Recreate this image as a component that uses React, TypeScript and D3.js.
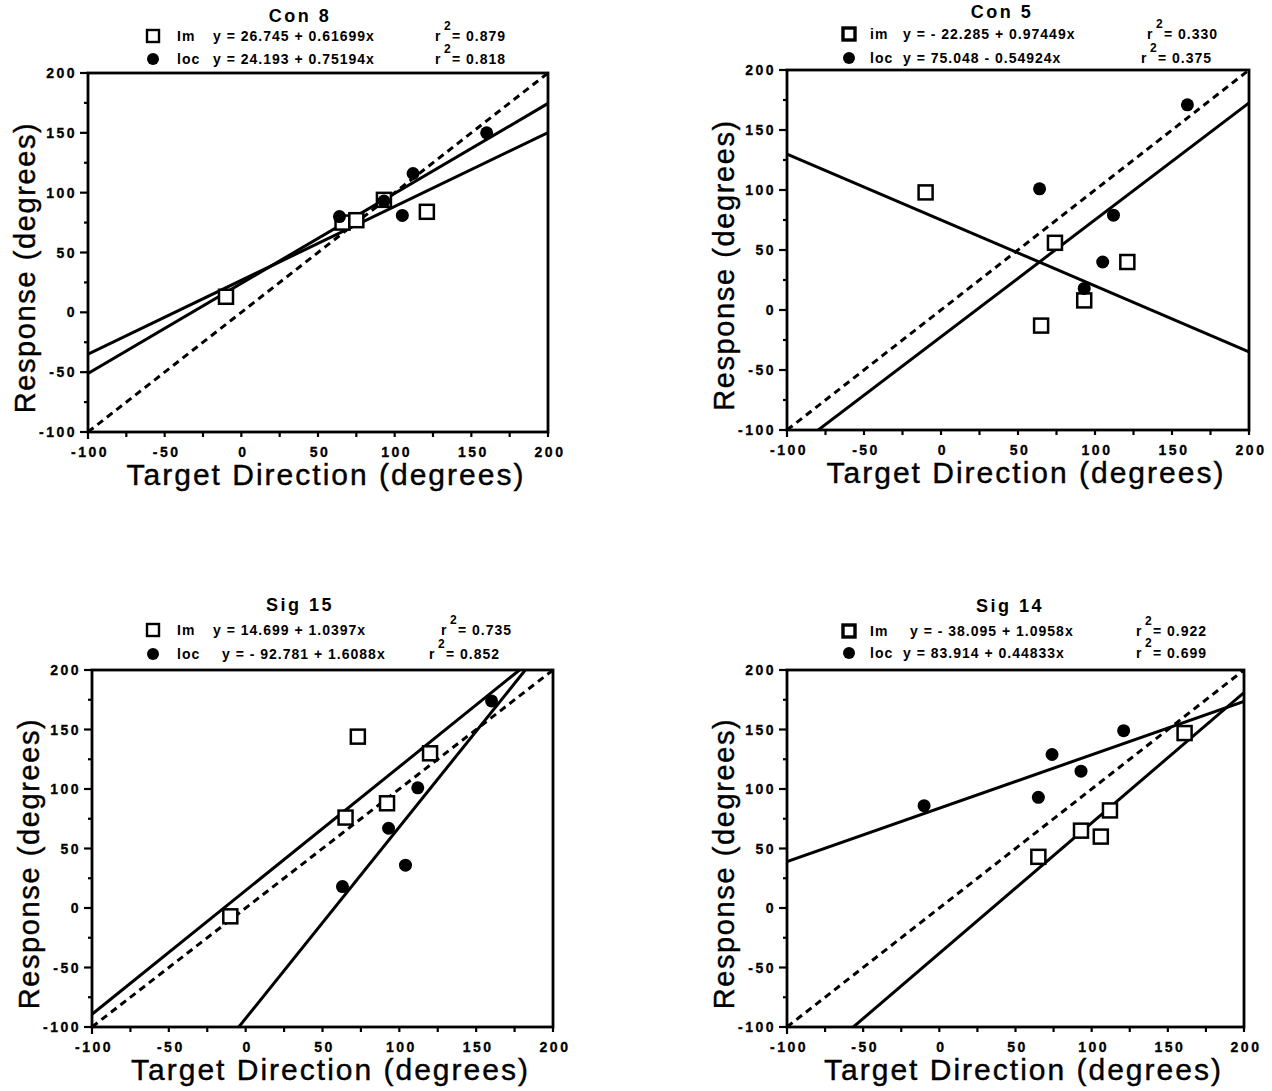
import React from "react";
import * as d3 from "d3";

// ---------- data ----------
const TITLES = ["Con 8", "Con 5", "Sig 15", "Sig 14"];
const IM_LABELS = ["Im", "im", "Im", "Im"];
const LOC_LABEL = "loc";

const IM_X = [
  [-10, 66, 75, 93, 121],
  [-10, 74, 65, 93, 121],
  [-10, 65, 73, 92, 120],
  [65, 93, 106, 112, 161],
];
const IM_Y = [
  [13, 75, 77, 94, 84],
  [98, 56, -13, 8, 40],
  [-7, 76, 144, 88, 130],
  [43, 65, 60, 82, 147],
];
const LOC_X = [
  [64, 93, 105, 112, 160],
  [64, 112, 105, 93, 160],
  [63, 93, 104, 112, 160],
  [-10, 65, 74, 93, 121],
];
const LOC_Y = [
  [80, 93, 81, 116, 150],
  [101, 79, 40, 18, 171],
  [18, 67, 36, 101, 174],
  [86, 93, 129, 115, 149],
];

const IM_A = [26.745, -22.285, 14.699, -38.095];
const IM_B = [0.61699, 0.97449, 1.0397, 1.0958];
const LOC_A = [24.193, 75.048, -92.781, 83.914];
const LOC_B = [0.75194, -0.54924, 1.6088, 0.44833];
const IM_R2 = ["0.879", "0.330", "0.735", "0.922"];
const LOC_R2 = ["0.818", "0.375", "0.852", "0.699"];

const X_TICKS = [-100, -50, 0, 50, 100, 150, 200];
const Y_TICKS = [-100, -50, 0, 50, 100, 150, 200];
const DOMAIN: [number, number] = [-100, 200];
const X_TITLE = "Target Direction (degrees)";
const Y_TITLE = "Response (degrees)";

// ---------- layout (styling only) ----------
const LAYOUT = [
  { x0: 88, x1: 548, y0: 73, y1: 432, titleX: 300, titleY: 22, row1: 41, row2: 64, sym: 153, lab: 177, eq1: 213, eq2: 213, r1: 435, r2: 435, symW: 2.4 },
  { x0: 787, x1: 1249, y0: 70, y1: 430, titleX: 1002, titleY: 18, row1: 39, row2: 63, sym: 849, lab: 870, eq1: 903, eq2: 903, r1: 1147, r2: 1141, symW: 3.4 },
  { x0: 92, x1: 553, y0: 670, y1: 1027, titleX: 300, titleY: 611, row1: 635, row2: 659, sym: 153, lab: 177, eq1: 213, eq2: 222, r1: 441, r2: 429, symW: 2.4 },
  { x0: 787, x1: 1244, y0: 670, y1: 1027, titleX: 1010, titleY: 612, row1: 636, row2: 658, sym: 849, lab: 870, eq1: 910, eq2: 903, r1: 1136, r2: 1136, symW: 3.4 },
];

const FONT = "'Liberation Sans', Arial, Helvetica, sans-serif";

function fmtEq(a: number, b: number) {
  const as = a < 0 ? `- ${Math.abs(a)}` : `${a}`;
  const bs = b < 0 ? `- ${Math.abs(b)}x` : `+ ${b}x`;
  return `y = ${as} ${bs}`;
}

function Panel({ i }: { i: number }) {
  const L = LAYOUT[i];
  const x = d3.scaleLinear().domain(DOMAIN).range([L.x0, L.x1]);
  const y = d3.scaleLinear().domain(DOMAIN).range([L.y1, L.y0]);
  const line = d3
    .line<[number, number]>()
    .x((d) => x(d[0]))
    .y((d) => y(d[1]));
  const fit = (a: number, b: number) =>
    line(DOMAIN.map((v) => [v, a + b * v] as [number, number])) || "";
  const minor = d3.range(-100, 201, 25);
  const clipId = `clip${i}`;
  const sq = 14;

  const imPts = IM_X[i].map((v, k) => [v, IM_Y[i][k]]);
  const locPts = LOC_X[i].map((v, k) => [v, LOC_Y[i][k]]);

  const legendText: any = {
    fontFamily: FONT,
    fontWeight: 700,
    fontSize: 14,
    letterSpacing: 1,
  };

  const r2 = (rx: number, ry: number, val: string) => (
    <g style={legendText}>
      <text x={rx} y={ry}>r</text>
      <text x={rx + 9} y={ry - 11} fontSize={12}>2</text>
      <text x={rx + 17} y={ry}>{`= ${val}`}</text>
    </g>
  );

  const tickText: any = {
    fontFamily: FONT,
    fontWeight: 700,
    fontSize: 14,
    letterSpacing: 2.5,
    stroke: "black",
    strokeWidth: 0.3,
  };

  return (
    <g>
      <defs>
        <clipPath id={clipId}>
          <rect x={L.x0} y={L.y0} width={L.x1 - L.x0} height={L.y1 - L.y0} />
        </clipPath>
      </defs>

      {/* title */}
      <text x={L.titleX} y={L.titleY} textAnchor="middle" fontFamily={FONT} fontWeight={700} fontSize={18} letterSpacing={2.5}>
        {TITLES[i]}
      </text>

      {/* legend row 1 */}
      <rect x={L.sym - 6} y={L.row1 - 11} width={12} height={12} fill="white" stroke="black" strokeWidth={L.symW} />
      <text x={L.lab} y={L.row1} style={legendText}>{IM_LABELS[i]}</text>
      <text x={L.eq1} y={L.row1} style={legendText}>{fmtEq(IM_A[i], IM_B[i])}</text>
      {r2(L.r1, L.row1, IM_R2[i])}

      {/* legend row 2 */}
      <circle cx={L.sym} cy={L.row2 - 5} r={6} fill="black" />
      <text x={L.lab} y={L.row2} style={legendText}>{LOC_LABEL}</text>
      <text x={L.eq2} y={L.row2} style={legendText}>{fmtEq(LOC_A[i], LOC_B[i])}</text>
      {r2(L.r2, L.row2, LOC_R2[i])}

      {/* frame */}
      <rect x={L.x0} y={L.y0} width={L.x1 - L.x0} height={L.y1 - L.y0} fill="white" stroke="black" strokeWidth={2.8} />

      {/* y ticks */}
      {minor.map((t) => (
        <line key={"ym" + t} x1={L.x0} x2={L.x0 - (Y_TICKS.includes(t) ? 8 : 4)} y1={y(t)} y2={y(t)} stroke="black" strokeWidth={2.2} />
      ))}
      {Y_TICKS.map((t) => (
        <text key={"yl" + t} x={L.x0 - 11} y={y(t) + 5} textAnchor="end" style={tickText}>
          {String(t)}
        </text>
      ))}

      {/* x ticks */}
      {minor.map((t) => (
        <line key={"xm" + t} x1={x(t)} x2={x(t)} y1={L.y1} y2={L.y1 + (t === -100 ? 7 : 5)} stroke="black" strokeWidth={2.2} />
      ))}
      {X_TICKS.map((t) => (
        <text key={"xl" + t} x={x(t) + 2} y={L.y1 + 25} textAnchor="middle" style={tickText}>
          {String(t)}
        </text>
      ))}

      {/* axis titles */}
      <text
        x={(L.x0 + L.x1) / 2 + 8}
        y={L.y1 + 53}
        textAnchor="middle"
        fontFamily={FONT}
        fontSize={30}
        letterSpacing={2}
        stroke="black"
        strokeWidth={0.4}
      >
        {X_TITLE}
      </text>
      <text
        transform={`translate(${L.x0 - 53}, ${(L.y0 + L.y1) / 2 + 15}) rotate(-90)`}
        textAnchor="middle"
        fontFamily={FONT}
        fontSize={29}
        letterSpacing={1.6}
        stroke="black"
        strokeWidth={0.4}
      >
        {Y_TITLE}
      </text>

      {/* lines */}
      <g clipPath={`url(#${clipId})`}>
        <path d={fit(0, 1)} fill="none" stroke="black" strokeWidth={3} strokeDasharray="7 5" />
        <path d={fit(IM_A[i], IM_B[i])} fill="none" stroke="black" strokeWidth={3} />
        <path d={fit(LOC_A[i], LOC_B[i])} fill="none" stroke="black" strokeWidth={3} />
      </g>

      {/* points */}
      {imPts.map((p, k) => (
        <rect key={"s" + k} x={x(p[0]) - sq / 2} y={y(p[1]) - sq / 2} width={sq} height={sq} fill="white" stroke="black" strokeWidth={2.5} />
      ))}
      {locPts.map((p, k) => (
        <circle key={"c" + k} cx={x(p[0])} cy={y(p[1])} r={6.5} fill="black" />
      ))}
    </g>
  );
}

export default function App() {
  return (
    <svg
      width={1272}
      height={1091}
      viewBox="0 0 1272 1091"
      style={{ position: "absolute", left: 0, top: 0, background: "white" }}
    >
      <rect width={1272} height={1091} fill="white" />
      {TITLES.map((_, i) => (
        <Panel key={i} i={i} />
      ))}
    </svg>
  );
}
